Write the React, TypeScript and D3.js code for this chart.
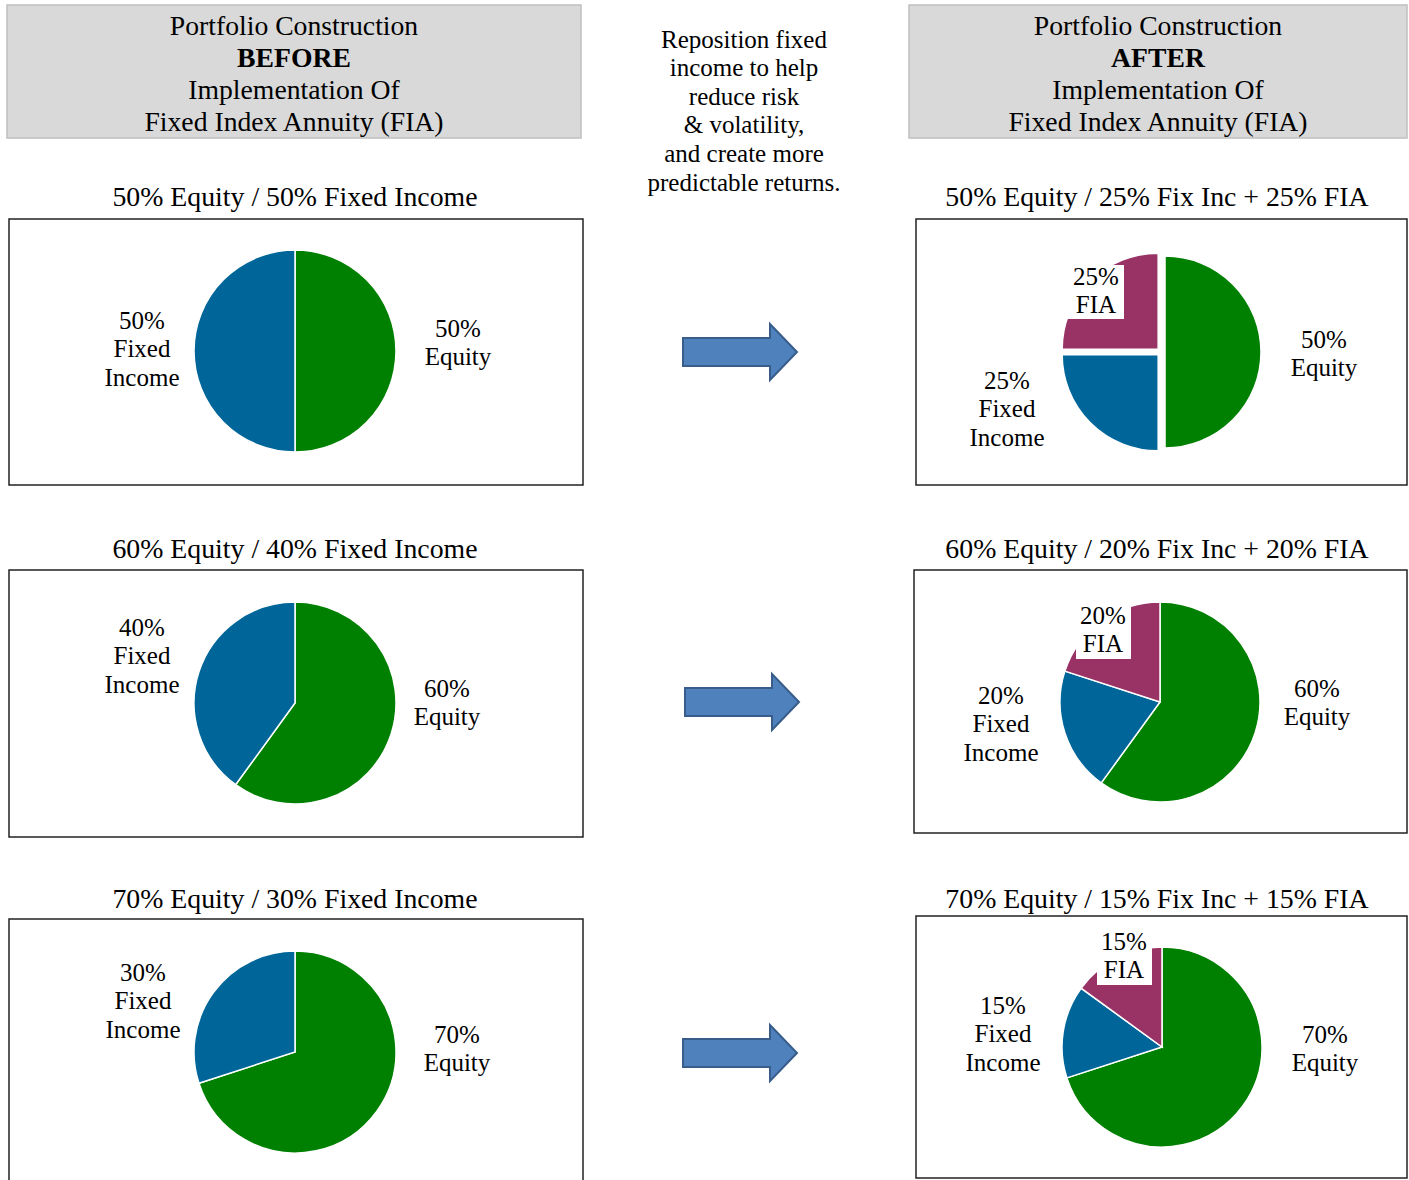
import React from "react";
import * as d3 from "d3";

// allocations, in percent
const beforeTitles = [
  "50% Equity / 50% Fixed Income",
  "60% Equity / 40% Fixed Income",
  "70% Equity / 30% Fixed Income",
];
const beforeEquity = [50, 60, 70];
const beforeFixed = [50, 40, 30];

const afterTitles = [
  "50% Equity / 25% Fix Inc + 25% FIA",
  "60% Equity / 20% Fix Inc + 20% FIA",
  "70% Equity / 15% Fix Inc + 15% FIA",
];
const afterEquity = [50, 60, 70];
const afterFixed = [25, 20, 15];
const afterFIA = [25, 20, 15];

const sliceNames = ["Equity", "Fixed Income", "FIA"];
const middleText = [
  "Reposition fixed",
  "income to help",
  "reduce risk",
  "& volatility,",
  "and create more",
  "predictable returns.",
];

const colors: Record<string, string> = {
  Equity: "#008000",
  "Fixed Income": "#006699",
  FIA: "#993366",
};

const FONT = "'Liberation Serif', 'Times New Roman', serif";

// layout of each row (not data)
const leftRows = [
  { box: [9, 219, 574, 266], cx: 295, cy: 351, r: 101, title: 196, eq: [458, 328], fi: [142, 320] },
  { box: [9, 570, 574, 267], cx: 295, cy: 703, r: 101, title: 548, eq: [447, 688], fi: [142, 627] },
  { box: [9, 919, 574, 280], cx: 295, cy: 1052, r: 101, title: 898, eq: [457, 1034], fi: [143, 972] },
];
const rightRows = [
  { box: [916, 219, 491, 266], cx: 1161, cy: 352, r: 96, title: 196, explode: 4, eq: [1324, 339], fi: [1007, 380], fia: [1096, 276], fiaBox: [1068, 265, 56, 54] },
  { box: [914, 570, 493, 263], cx: 1160, cy: 702, r: 100, title: 548, explode: 0, eq: [1317, 688], fi: [1001, 695], fia: [1103, 615], fiaBox: [1076, 603, 55, 56] },
  { box: [916, 916, 491, 262], cx: 1162, cy: 1047, r: 100, title: 898, explode: 0, eq: [1325, 1034], fi: [1003, 1005], fia: [1124, 941], fiaBox: [1097, 948, 55, 37] },
];
const arrowY = [352, 702, 1053];
const arrowX = [683, 685, 683];

const pie = d3
  .pie<number>()
  .sort(null)
  .value((d) => d);

const Lines = ({ x, y, lines, size = 25, step = 28.7, bold = -1 }: any) => (
  <text x={x} y={y} fontFamily={FONT} fontSize={size} textAnchor="middle" fill="#000">
    {lines.map((l: string, i: number) => (
      <tspan key={i} x={x} y={y + i * step} dominantBaseline="central" fontWeight={i === bold ? "bold" : "normal"}>
        {l}
      </tspan>
    ))}
  </text>
);

const PieChart = ({ values, row }: any) => {
  const arc = d3.arc<d3.PieArcDatum<number>>().innerRadius(0).outerRadius(row.r);
  const arcs = pie(values);
  return (
    <g>
      {arcs.map((a, i) => {
        const mid = (a.startAngle + a.endAngle) / 2;
        const off = row.explode || 0;
        const dx = Math.sin(mid) * off;
        const dy = -Math.cos(mid) * off;
        return (
          <path
            key={i}
            d={arc(a) || ""}
            transform={`translate(${row.cx + dx},${row.cy + dy})`}
            fill={colors[sliceNames[i]]}
            stroke="#fff"
            strokeWidth={1.5}
          />
        );
      })}
    </g>
  );
};

const Arrow = ({ x, y }: { x: number; y: number }) => {
  const bodyLen = 87;
  const headLen = 27;
  const bh = 14;
  const hh = 28;
  const pts = [
    [x, y - bh],
    [x + bodyLen, y - bh],
    [x + bodyLen, y - hh],
    [x + bodyLen + headLen, y],
    [x + bodyLen, y + hh],
    [x + bodyLen, y + bh],
    [x, y + bh],
  ];
  return <path d={d3.line()(pts as [number, number][]) + "Z"} fill="#4f81bd" stroke="#385d8a" strokeWidth={2} />;
};

const Header = ({ x, w, label }: { x: number; w: number; label: string }) => (
  <g>
    <rect x={x} y={5} width={w} height={133} fill="#d9d9d9" stroke="#bfbfbf" strokeWidth={1.5} />
    <Lines
      x={x + w / 2}
      y={25}
      size={27.7}
      step={32}
      bold={1}
      lines={["Portfolio Construction", label, "Implementation Of", "Fixed Index Annuity (FIA)"]}
    />
  </g>
);

export default function App() {
  return (
    <svg
      width={1409}
      height={1180}
      style={{ position: "absolute", left: 0, top: 0, background: "#fff" }}
    >
      <rect width={1409} height={1180} fill="#fff" />
      <Header x={7} w={574} label="BEFORE" />
      <Header x={909} w={498} label="AFTER" />
      <Lines x={744} y={39} size={25} step={28.6} lines={middleText} />

      {leftRows.map((row, i) => (
        <g key={"l" + i}>
          <Lines x={295} y={row.title} size={27.8} lines={[beforeTitles[i]]} />
          <rect x={row.box[0]} y={row.box[1]} width={row.box[2]} height={row.box[3]} fill="#fff" stroke="#222" strokeWidth={1.5} />
          <PieChart values={[beforeEquity[i], beforeFixed[i]]} row={row} />
          <Lines x={row.eq[0]} y={row.eq[1]} lines={[`${beforeEquity[i]}%`, "Equity"]} />
          <Lines x={row.fi[0]} y={row.fi[1]} lines={[`${beforeFixed[i]}%`, "Fixed", "Income"]} />
        </g>
      ))}

      {rightRows.map((row, i) => (
        <g key={"r" + i}>
          <Lines x={1157} y={row.title} size={27.8} lines={[afterTitles[i]]} />
          <rect x={row.box[0]} y={row.box[1]} width={row.box[2]} height={row.box[3]} fill="#fff" stroke="#222" strokeWidth={1.5} />
          <PieChart values={[afterEquity[i], afterFixed[i], afterFIA[i]]} row={row} />
          <rect x={row.fiaBox[0]} y={row.fiaBox[1]} width={row.fiaBox[2]} height={row.fiaBox[3]} fill="#fff" />
          <Lines x={row.fia[0]} y={row.fia[1]} lines={[`${afterFIA[i]}%`, "FIA"]} />
          <Lines x={row.eq[0]} y={row.eq[1]} lines={[`${afterEquity[i]}%`, "Equity"]} />
          <Lines x={row.fi[0]} y={row.fi[1]} lines={[`${afterFixed[i]}%`, "Fixed", "Income"]} />
        </g>
      ))}

      {arrowY.map((y, i) => (
        <Arrow key={i} x={arrowX[i]} y={y} />
      ))}
    </svg>
  );
}
